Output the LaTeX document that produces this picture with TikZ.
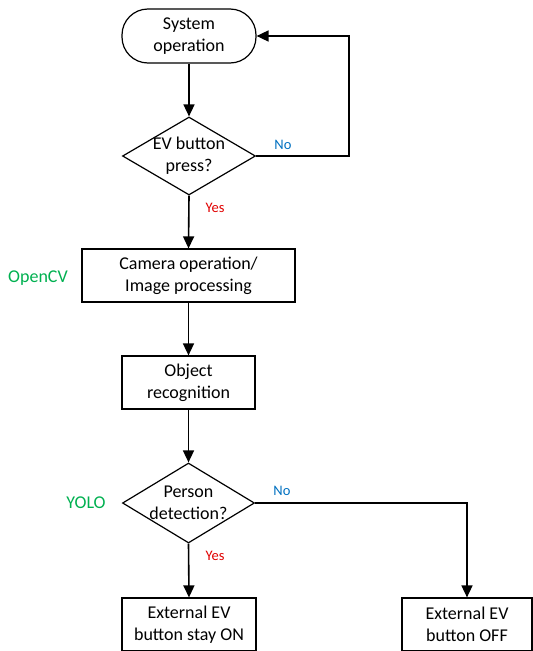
\documentclass[tikz,border=0pt]{standalone}
\usepackage{fontspec}
\setmainfont{Carlito}
\usetikzlibrary{shapes.geometric,arrows.meta}
\definecolor{cgreen}{HTML}{00B050}
\definecolor{cblue}{HTML}{0070C0}
\definecolor{cred}{HTML}{E00000}
\begin{document}
\begin{tikzpicture}[x=1pt,y=-1pt,
  every node/.style={font=\fontsize{18}{22}\selectfont},
  box/.style={draw,line width=1.2pt,rectangle,align=center,inner sep=0pt},
  term/.style={box,rounded corners=26pt},
  dia/.style={draw,line width=1.2pt,diamond,inner sep=0pt},
  conn/.style={line width=1.6pt,-{Triangle[length=12pt,width=11pt]}},
  line/.style={line width=1.6pt},
  lbl/.style={font=\fontsize{14.5}{17}\selectfont},
  side/.style={font=\fontsize{18}{22}\selectfont,text=cgreen}]
\useasboundingbox (0,0) rectangle (533,651);
\node[term,minimum width=134pt,minimum height=54pt] (start) at (189,36) {System\\operation};
\node[dia,minimum width=133pt,minimum height=78pt] (d1) at (189,156) {};
\node[align=center] (d1t) at (d1.center) {EV button\\press?};
\node[box,minimum width=213pt,minimum height=53pt] (cam) at (188.5,275.5) {Camera operation/\\Image processing};
\node[box,minimum width=133pt,minimum height=53pt] (obj) at (188.5,382.5) {Object\\recognition};
\node[dia,minimum width=132pt,minimum height=80pt] (d2) at (188.5,503) {};
\node[align=center] (d2t) at (d2.center) {Person\\detection?};
\node[box,minimum width=134pt,minimum height=53pt] (on) at (189,624.5) {External EV\\button stay ON};
\node[box,minimum width=130pt,minimum height=53pt] (off) at (467,624.5) {External EV\\button OFF};
\coordinate (c1) at (349,156);
\coordinate (c2) at (349,36);
\coordinate (c3) at (467,503);
\draw[conn] (start.south) -- (d1.north);
\draw[conn] (d1.east) -- (c1) -- (c2) -- (start.east);
\draw[conn] (d1.south) -- (cam.north);
\draw[conn] (cam.south) -- (obj.north);
\draw[conn] (obj.south) -- (d2.north);
\draw[conn] (d2.south) -- (on.north);
\draw[conn] (d2.east) -- (c3) -- (off.north);
\node[lbl,text=cblue] (no1) at (283,145) {No};
\node[lbl,text=cred] (yes1) at (215,208) {Yes};
\node[lbl,text=cblue] (no2) at (282,491) {No};
\node[lbl,text=cred] (yes2) at (215,556) {Yes};
\node[side] (ocv) at (38,278) {OpenCV};
\node[side] (yolo) at (86,503) {YOLO};
\end{tikzpicture}
\end{document}
